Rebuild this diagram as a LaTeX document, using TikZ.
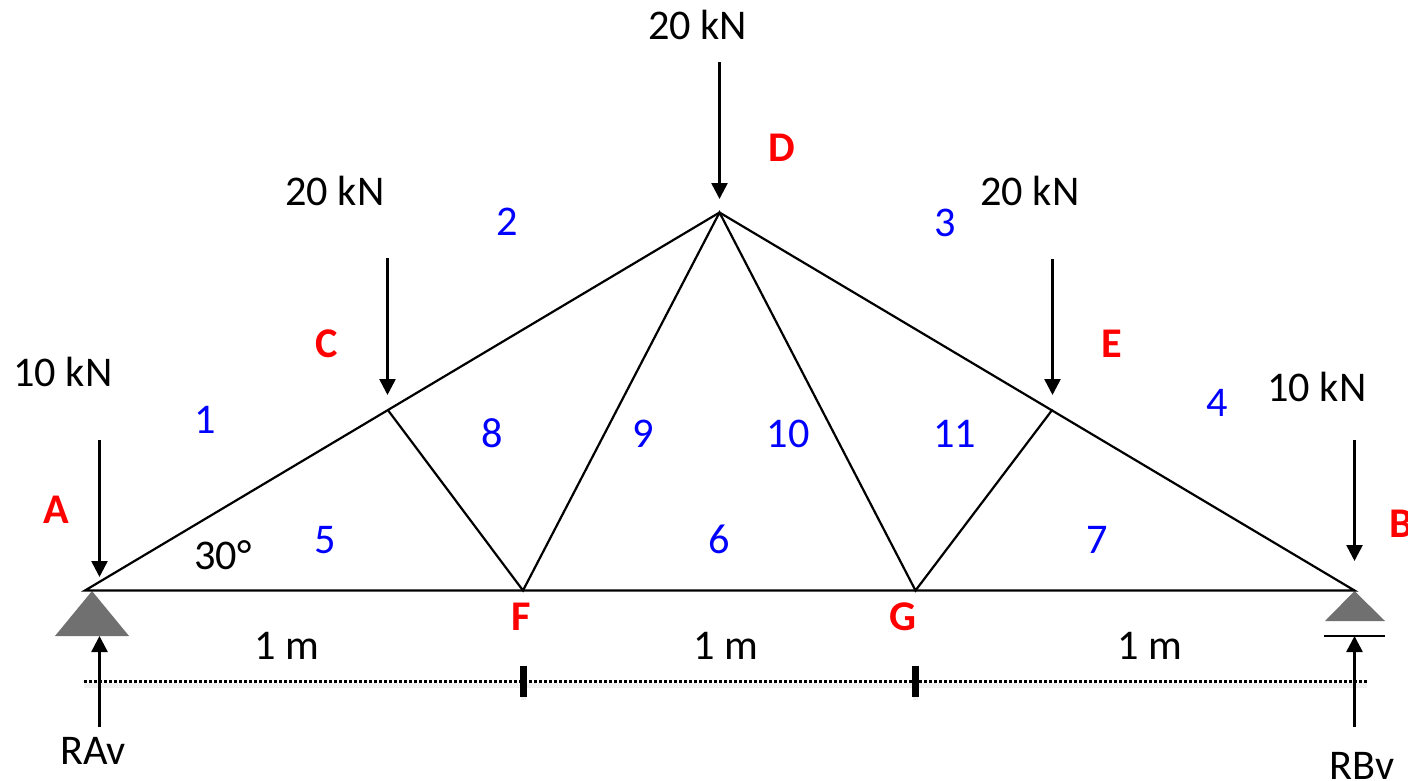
\documentclass[tikz,border=0pt]{standalone}
\usepackage{fontspec}
\setmainfont{Carlito}
\usetikzlibrary{arrows.meta}
\definecolor{supgray}{RGB}{112,112,112}
\tikzset{
  member/.style={draw=black,line width=2.2pt},
  load/.style={draw=black,line width=2.6pt,-{Triangle[width=16pt,length=16pt]}},
  txt/.style={anchor=base,inner sep=0pt,font=\fontsize{42.3}{48}\selectfont,text=black,yshift=-1.3pt},
  redlab/.style={txt,text={rgb,255:red,255;green,0;blue,0},font=\fontsize{42.3}{48}\selectfont\bfseries,yshift=-0.7pt},
  bluelab/.style={txt,text={rgb,255:red,0;green,0;blue,255}},
  support/.style={fill=supgray,draw=none},
  tick/.style={draw=black,line width=7pt},
  dimline/.style={draw=black,line width=2.6pt,dash pattern=on 2.6pt off 2.4pt},
  shadowline/.style={draw=black,opacity=0.06,line width=5pt}
}
\begin{document}
\begin{tikzpicture}[x=1pt,y=-1pt]
\useasboundingbox (0,0) rectangle (1408,781);
\clip (0,0) rectangle (1408,781);
% joints
\coordinate (A) at (85,590.5);
\coordinate (B) at (1354.5,590.5);
\coordinate (C) at (387.5,409.5);
\coordinate (D) at (719.5,212.5);
\coordinate (E) at (1052.5,409.5);
\coordinate (F) at (523,590.5);
\coordinate (G) at (915.5,590.5);
% dimension line
\coordinate (dl) at (84,681.5);
\coordinate (dr) at (1367,681.5);
\coordinate (t1a) at (523,666);
\coordinate (t1b) at (523,697);
\coordinate (t2a) at (915.5,666);
\coordinate (t2b) at (915.5,697);
\draw[shadowline] ([yshift=-4pt]dl) -- ([yshift=-4pt]dr);
\draw[shadowline] ([yshift=-3pt]t1a) -- ([yshift=-3pt]t1b);
\draw[shadowline] ([yshift=-3pt]t2a) -- ([yshift=-3pt]t2b);
\draw[dimline] (dl) -- (dr);
\draw[tick] (t1a) -- (t1b);
\draw[tick] (t2a) -- (t2b);
% supports
\coordinate (sa) at (92,591);
\coordinate (sal) at (55,636);
\coordinate (sar) at (129,636);
\coordinate (sb) at (1354.5,591);
\coordinate (sbl) at (1325,621);
\coordinate (sbr) at (1385,621);
\coordinate (rl) at (1324,636);
\coordinate (rr) at (1385,636);
\fill[support] (sa) -- (sal) -- (sar) -- cycle;
\fill[support] (sb) -- (sbl) -- (sbr) -- cycle;
\draw[member] (rl) -- (rr);
% truss
\draw[member,line join=miter] (A) -- (D) -- (B) -- cycle;
\draw[member] (C) -- (F) -- (D) -- (G) -- (E);
% load arrows
\coordinate (l1a) at (99.5,440);   \coordinate (l1b) at (99.5,577);
\coordinate (l2a) at (387.5,258);  \coordinate (l2b) at (387.5,395);
\coordinate (l3a) at (719.5,62);   \coordinate (l3b) at (719.5,199);
\coordinate (l4a) at (1052.5,259); \coordinate (l4b) at (1052.5,395);
\coordinate (l5a) at (1354.5,440); \coordinate (l5b) at (1354.5,561);
\coordinate (r1a) at (99.5,727);   \coordinate (r1b) at (99.5,636);
\coordinate (r2a) at (1354.5,727); \coordinate (r2b) at (1354.5,636);
\draw[load] (l1a) -- (l1b);
\draw[load] (l2a) -- (l2b);
\draw[load] (l3a) -- (l3b);
\draw[load] (l4a) -- (l4b);
\draw[load] (l5a) -- (l5b);
\draw[load] (r1a) -- (r1b);
\draw[load] (r2a) -- (r2b);
% load labels
\node[txt] (n1) at (697.5,38.5) {20 kN};
\node[txt] (n2) at (335,204.5) {20 kN};
\node[txt] (n3) at (1030,204.5) {20 kN};
\node[txt] (n4) at (63,385.5) {10 kN};
\node[txt] (n5) at (1317,400.5) {10 kN};
\node[txt] (ang) at (223,568.5) {30°};
\node[txt] (m1) at (287,658) {1 m};
\node[txt] (m2) at (726,658) {1 m};
\node[txt] (m3) at (1150,658) {1 m};
\node[txt] (ra) at (93,763) {RAv};
\node[txt] (rb) at (1362,778) {RBv};
% joint labels
\node[redlab] (lA) at (56,521.5) {A};
\node[redlab] (lB) at (1401,535.5) {B};
\node[redlab] (lC) at (327,355.5) {C};
\node[redlab] (lD) at (782,159.5) {D};
\node[redlab] (lE) at (1112,355.5) {E};
\node[redlab] (lF) at (521,628.5) {F};
\node[redlab] (lG) at (903,628.5) {G};
% member numbers
\node[bluelab] (b1) at (205,432.5) {1};
\node[bluelab] (b2) at (507,234.5) {2};
\node[bluelab] (b3) at (945.5,235) {3};
\node[bluelab] (b4) at (1217.5,415.5) {4};
\node[bluelab] (b5) at (325.5,552.5) {5};
\node[bluelab] (b6) at (719.5,552.5) {6};
\node[bluelab] (b7) at (1097.5,552.5) {7};
\node[bluelab] (b8) at (492,446.5) {8};
\node[bluelab] (b9) at (643,446.5) {9};
\node[bluelab] (b10) at (788,446.5) {10};
\node[bluelab] (b11) at (954.5,446.5) {11};
\end{tikzpicture}
\end{document}
